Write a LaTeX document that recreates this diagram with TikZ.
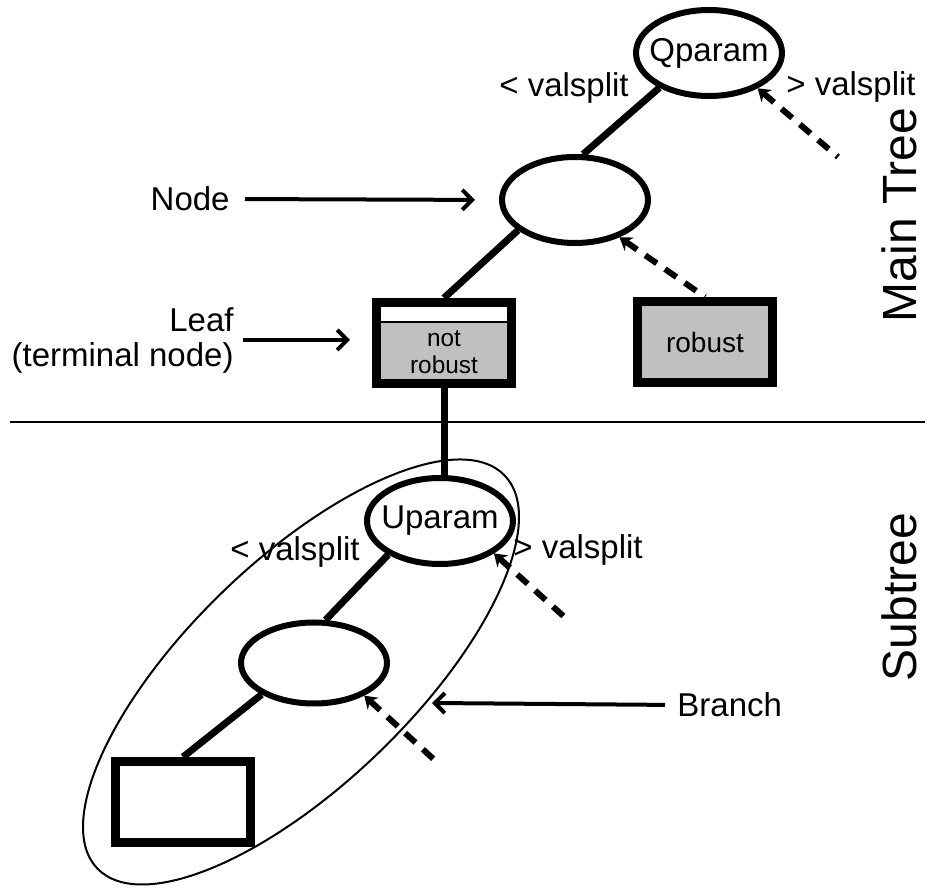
\documentclass[tikz,border=0pt]{standalone}
\usepackage{fontspec}
\setmainfont{Liberation Sans}
\usepackage{tikz}
\usetikzlibrary{arrows.meta,positioning,shapes.geometric}
\definecolor{leafgray}{HTML}{C0C0C0}

\begin{document}
\begin{tikzpicture}[
    x=0.5pt, y=-0.5pt,
    split_node/.style={ellipse, draw=black, line width=3pt, minimum width=73pt, minimum height=43pt, inner sep=0pt},
    split_txt/.style={font=\fontsize{16.5}{19}\selectfont, inner sep=0pt},
    leaf_box/.style={rectangle, draw=black, line width=4.5pt, minimum width=67.5pt, minimum height=40.5pt, inner sep=0pt},
    branch_line/.style={line width=3.5pt},
    other_side/.style={line width=3pt, dash pattern=on 7pt off 5pt, {Stealth[length=6pt,width=8pt]}-},
    pointer/.style={line width=2pt, -{Straight Barb[length=5pt,width=10pt]}},
    lbl/.style={font=\fontsize{16.5}{17.5}\selectfont, inner sep=0pt},
    side_lbl/.style={font=\fontsize{24}{28}\selectfont, rotate=90, inner sep=0pt}
]
\useasboundingbox (0,0) rectangle (928,892);

% Main tree
\node[split_node] (qparam) at (709,53) {};
\node[split_txt] (qparam_txt) at (qparam.center) {Qparam};
\node[split_node] (mid) at (575,200) {};
\node[leaf_box, fill=leafgray, path picture={
    \fill[white] (path picture bounding box.north west) rectangle ([yshift=-9.75pt]path picture bounding box.north east);
    \draw[line width=0.8pt] ([yshift=-9.75pt]path picture bounding box.north west) -- ([yshift=-9.75pt]path picture bounding box.north east);
  }] (leaf) at (444,343) {};
\node[font=\fontsize{12.2}{13.5}\selectfont, align=center, inner sep=0pt] (leaf_txt) at (444,352) {not\\robust};
\node[leaf_box, fill=leafgray, font=\fontsize{14}{16}\selectfont] (robust) at (705,342) {robust};

\node[lbl] (q_lt) at (564,88) {< valsplit};
\node[lbl] (q_gt) at (851,87) {> valsplit};

% Subtree
\node[split_node] (uparam) at (440,521) {};
\node[split_txt] (uparam_txt) at (uparam.center) {Uparam};
\node[split_node, minimum height=40.5pt] (low) at (314,663) {};
\node[leaf_box] (low_leaf) at (183,802) {};
\node[draw, ellipse, line width=1pt, rotate=44, minimum width=283pt, minimum height=112pt] (branch_ring) at (301,672) {};

\node[lbl] (u_lt) at (295,552) {< valsplit};
\node[lbl] (u_gt) at (578,550) {> valsplit};

% Callouts
\node[lbl, anchor=east] (node_lbl) at (230,199) {Node};
\node[lbl, align=right, anchor=east] (leaf_lbl) at (234,340) {Leaf\\(terminal node)};
\node[lbl, anchor=west] (branch_lbl) at (677,705) {Branch};
\coordinate (branch_tip) at (432,703);

\node[side_lbl] (main_lbl) at (899,215) {Main Tree};
\node[side_lbl] (sub_lbl) at (899,597) {Subtree};

\coordinate (div_l) at (10,422);
\coordinate (div_r) at (925,422);
\coordinate (q_right) at (838,157);
\coordinate (u_right) at (570,622);
\coordinate (low_right) at (440,765);

% Connections
\draw[branch_line] (qparam.215) -- (mid.80);
\draw[branch_line] (mid.208) -- (leaf.north);
\draw[branch_line] (leaf.south) -- (leaf.south |- uparam.north);
\draw[branch_line] (uparam.213) -- (low.75);
\draw[branch_line] (low.211) -- (low_leaf.north);

\draw[other_side] (qparam.-36) -- (q_right);
\draw[other_side] (mid.-40) -- (robust.north);
\draw[other_side] (uparam.-31) -- (u_right);
\draw[other_side] (low.-33) -- (low_right);

\draw[pointer, shorten <=7.5pt, shorten >=12pt] (node_lbl.east) -- (mid.west);
\draw[pointer, shorten <=4.5pt, shorten >=11pt] (leaf_lbl.east) -- (leaf_lbl.east -| leaf.west);
\draw[pointer, shorten <=6pt] (branch_lbl.west) -- (branch_tip);

\draw[line width=0.8pt] (div_l) -- (div_r);

\end{tikzpicture}
\end{document}
